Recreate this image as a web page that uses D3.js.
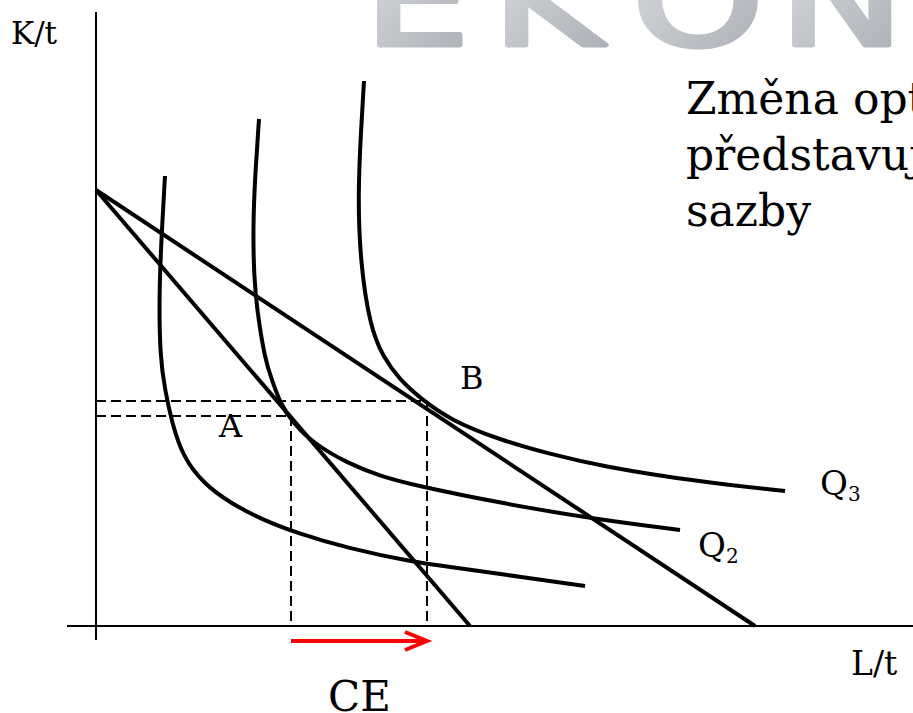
<!DOCTYPE html>
<html><head><meta charset="utf-8">
<script src="https://cdn.jsdelivr.net/npm/d3@7/dist/d3.min.js"></script>
<style>html,body{margin:0;padding:0;background:#fff;overflow:hidden}</style>
</head><body>
<svg id="c" width="913" height="713"></svg>
<script>
// Data (x = labour L/t, y = capital K/t, arbitrary units)
const q1 = [[69,450],[66,399],[63,333],[64,269],[69,236],[76,203],[87,169],[107,143],[134,123],[167,106],[201,93],[251,78],[317,64],[354,59],[404,52],[489,40]];
const q2 = [[163,507],[159,449],[157,399],[158,349],[161,316],[169,266],[176,246],[184,223],[197,203],[217,183],[251,163],[284,150],[317,141],[404,123],[504,106],[584,96]];
const q3 = [[268,545],[265,496],[262,433],[264,366],[274,299],[287,269],[304,246],[324,228],[354,206],[404,186],[454,172],[504,160],[604,144],[689,135]];
const isocost1 = [[0,436],[374,0]];
const isocost2 = [[0,436],[659,0]];
const pointA = [195,210];
const pointB = [331,225];
const labels = {y:"K/t", x:"L/t", A:"A", B:"B", ce:"CE"};
const textLines = ["Změna optimální kombinace","představuje změnu mzdové","sazby"];
const watermark = ["E","K","O","N"];

const svg = d3.select("#c");
const x = d3.scaleLinear().domain([0,800]).range([96,896]);
const y = d3.scaleLinear().domain([0,600]).range([626,26]);
const serif = "'DejaVu Serif', serif";

// watermark
const defs = svg.append("defs");
const g = defs.append("linearGradient").attr("id","wm").attr("x1","0").attr("y1","0").attr("x2","1").attr("y2","1");
g.append("stop").attr("offset","0").attr("stop-color","#dadde1");
g.append("stop").attr("offset","1").attr("stop-color","#a9adb3");
const wmx = [372,500,640,787];
svg.append("g").selectAll("text").data(watermark).join("text")
  .attr("transform",(d,i)=>`translate(${wmx[i]-8},45) scale(1.35,1)`)
  .attr("font-family","'DejaVu Sans', sans-serif").attr("font-weight","normal")
  .attr("font-size",124).attr("fill","url(#wm)").attr("stroke","url(#wm)").attr("stroke-width",5)
  .attr("stroke-linejoin","round").text(d=>d);

// axes
svg.append("line").attr("x1",x(0)).attr("x2",x(0)).attr("y1",y(614)).attr("y2",y(-14))
  .attr("stroke","#000").attr("stroke-width",2);
svg.append("line").attr("x1",x(-29)).attr("x2",x(830)).attr("y1",y(0)).attr("y2",y(0))
  .attr("stroke","#000").attr("stroke-width",2);

// dashed guides
const dash = svg.append("g").attr("stroke","#000").attr("stroke-width",2).attr("stroke-dasharray","10,5");
[pointA,pointB].forEach(p=>{
  dash.append("line").attr("x1",x(0)).attr("x2",x(p[0])).attr("y1",y(p[1])).attr("y2",y(p[1]));
  dash.append("line").attr("x1",x(p[0])).attr("x2",x(p[0])).attr("y1",y(p[1])).attr("y2",y(0));
});

// isoquants and isocosts
const line = d3.line().x(d=>x(d[0])).y(d=>y(d[1]));
const curve = d3.line().x(d=>x(d[0])).y(d=>y(d[1])).curve(d3.curveBasis);
[q1,q2,q3].forEach(q=>svg.append("path").attr("d",curve(q)).attr("fill","none").attr("stroke","#000").attr("stroke-width",4));
[isocost1,isocost2].forEach(l=>svg.append("path").attr("d",line(l)).attr("fill","none").attr("stroke","#000").attr("stroke-width",4));

// red arrow
const ay = y(-15);
svg.append("line").attr("x1",x(pointA[0])).attr("x2",x(pointB[0])-2).attr("y1",ay).attr("y2",ay)
  .attr("stroke","#f00").attr("stroke-width",4);
svg.append("path").attr("d",`M${x(pointB[0])-22},${ay-9}L${x(pointB[0])},${ay}L${x(pointB[0])-22},${ay+9}`)
  .attr("fill","none").attr("stroke","#f00").attr("stroke-width",4).attr("stroke-linejoin","miter");

// labels
function t(tx,ty,s,size){return svg.append("text").attr("x",tx).attr("y",ty).attr("font-family",serif).attr("font-size",size).text(s);}
t(11,44,labels.y,31);
t(851,675,labels.x,33);
t(219,437,labels.A,32);
t(460,389,labels.B,32);
t(328,711,labels.ce,42);
function q(tx,ty,sub){
  const e = svg.append("text").attr("x",tx).attr("y",ty).attr("font-family",serif).attr("font-size",34);
  e.append("tspan").text("Q");
  e.append("tspan").attr("font-size",20).attr("dy",6).text(sub);
}
q(820,495,"3");
q(698,557,"2");
svg.append("g").selectAll("text").data(textLines).join("text")
  .attr("x",686).attr("y",(d,i)=>114+i*56).attr("font-family",serif).attr("font-size",44).text(d=>d);
</script>
</body></html>
